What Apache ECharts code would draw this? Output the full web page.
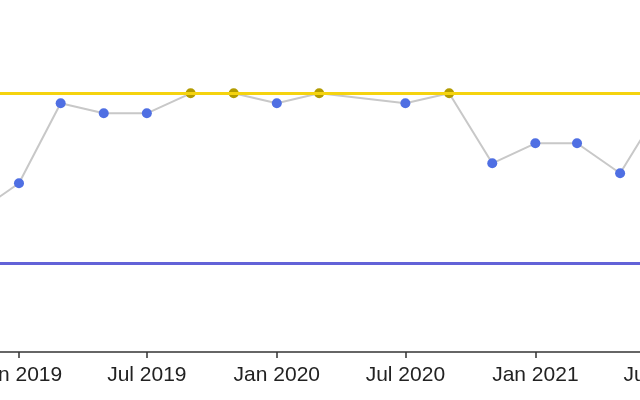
<!DOCTYPE html>
<html>
<head>
<meta charset="utf-8">
<script src="https://cdn.jsdelivr.net/npm/echarts@6/dist/echarts.min.js"></script>
<style>html,body{margin:0;padding:0;background:#fff;overflow:hidden;width:640px;height:400px;position:relative}#c{position:absolute;left:-46px;top:0;width:753px;height:400px}</style>
</head>
<body>
<div id="c"></div>
<script>
// Data
var dates = ['2018-11-01','2019-01-01','2019-03-01','2019-05-01','2019-07-01','2019-09-01','2019-11-01','2020-01-01','2020-03-01','2020-07-01','2020-09-01','2020-11-01','2021-01-01','2021-03-01','2021-05-01','2021-07-01'];
var values = [14, 17, 25, 24, 24, 26, 26, 25, 26, 25, 26, 19, 21, 21, 18, 25];
var upperLimit = 26;
var lowerLimit = 9;
var tickDates = ['2019-01-01','2019-07-01','2020-01-01','2020-07-01','2021-01-01','2021-07-01'];
var monthNames = ['Jan','Feb','Mar','Apr','May','Jun','Jul','Aug','Sep','Oct','Nov','Dec'];

function ts(s){ var p = s.split('-'); return Date.UTC(+p[0], +p[1]-1, +p[2]); }

var seriesData = dates.map(function(d, i){
  var v = values[i];
  return {
    value: [ts(d), v],
    itemStyle: { color: v >= upperLimit ? '#b39c00' : '#4f6fe3' }
  };
});
var tickVals = tickDates.map(ts);

var chart = echarts.init(document.getElementById('c'), null, {renderer: 'canvas'});
chart.setOption({
  animation: false,
  backgroundColor: '#ffffff',
  grid: { left: 0, right: 0, top: 2, bottom: 48, containLabel: false },
  xAxis: {
    type: 'value',
    min: ts('2018-10-01'),
    max: ts('2021-09-01'),
    axisLine: { show: true, lineStyle: { color: '#333333', width: 1.5 } },
    axisTick: { show: true, length: 6, lineStyle: { color: '#333333', width: 1.5 }, customValues: tickVals },
    axisLabel: {
      customValues: tickVals,
      color: '#222222',
      fontSize: 21,
      fontFamily: 'Liberation Sans, Arial, sans-serif',
      margin: 13,
      hideOverlap: false,
      formatter: function(v){ var d = new Date(v); return monthNames[d.getUTCMonth()] + ' ' + d.getUTCFullYear(); }
    },
    splitLine: { show: false }
  },
  yAxis: {
    type: 'value',
    min: 0.13,
    max: 35.13,
    show: false,
    splitLine: { show: false }
  },
  series: [
    {
      type: 'line',
      data: [],
      z: 1,
      markLine: {
        silent: true,
        symbol: 'none',
        label: { show: false },
        animation: false,
        data: [
          { yAxis: upperLimit, lineStyle: { color: '#f5d30f', width: 3, type: 'solid' } },
          { yAxis: lowerLimit, lineStyle: { color: '#6262d8', width: 3, type: 'solid' } }
        ]
      }
    },
    {
      type: 'line',
      z: 3,
      data: seriesData,
      symbol: 'circle',
      symbolSize: 10,
      showAllSymbol: true,
      clip: false,
      lineStyle: { color: '#c8c8c8', width: 2 },
      itemStyle: { borderWidth: 0 }
    }
  ]
});
</script>
</body>
</html>
